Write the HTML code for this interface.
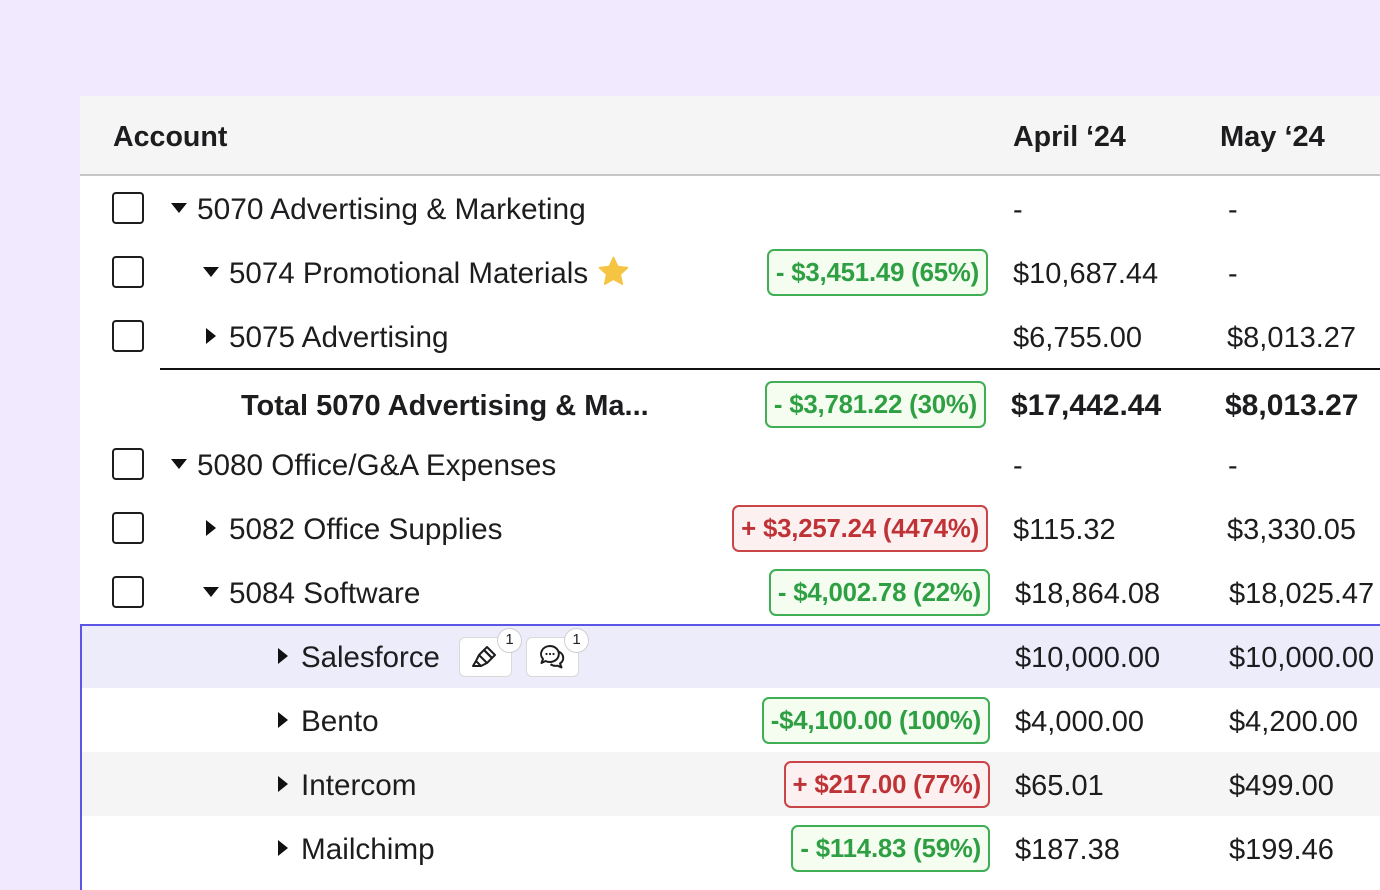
<!DOCTYPE html>
<html><head><meta charset="utf-8">
<style>
*{margin:0;padding:0;box-sizing:border-box}
html,body{width:1380px;height:890px;overflow:hidden;background:#f1e9fe}
body{position:relative;font-family:"Liberation Sans",Arial,sans-serif;color:#1d1d1f}
.card{position:absolute;left:80px;top:96px;width:1300px;height:794px;background:#fff}
.hdr{position:absolute;left:80px;top:96px;width:1300px;height:80px;background:#f5f5f5;border-bottom:2px solid #c6c6c6}
.h{position:absolute;top:97px;height:80px;line-height:80px;font-weight:bold;font-size:28.6px;color:#1d1d1f}
.t{position:absolute;font-size:29.7px;white-space:nowrap;height:64px;line-height:64px;margin-top:1.5px}
.b{font-weight:bold;font-size:29px}
.v{position:absolute;font-size:29px;white-space:nowrap;height:64px;line-height:64px;margin-top:1.5px}
.cb{position:absolute;left:112px;width:32px;height:32px;border:2px solid #1d1d1f;border-radius:4px;background:#fff}
.td{position:absolute;width:0;height:0;border-left:8px solid transparent;border-right:8px solid transparent;border-top:10px solid #111}
.tr{position:absolute;width:0;height:0;border-top:8px solid transparent;border-bottom:8px solid transparent;border-left:10px solid #111}
.bd{position:absolute;height:47px;line-height:44px;border:2px solid;border-radius:7px;font-weight:bold;font-size:25.8px;padding:0 7px;white-space:nowrap;letter-spacing:-0.2px}
.g{border-color:#3fae55;background:#f4fdef;color:#2e9f43}
.r{border-color:#c94548;background:#fdf0f0;color:#bf3337}
.btn{position:absolute;top:637px;width:53px;height:40px;border:1.5px solid #d9d9d9;border-radius:6px;background:#fff}
.cnt{position:absolute;top:628px;width:25px;height:25px;border-radius:50%;border:1.5px solid #cfcfcf;background:#fff;font-size:15px;line-height:22px;text-align:center;color:#222}
</style></head><body>
<div class="card"></div>
<div class="hdr"></div>
<div class="h" style="left:113px">Account</div>
<div class="h" style="left:1013px">April ‘24</div>
<div class="h" style="left:1220px;font-size:29px">May ‘24</div>

<!-- highlighted rows backgrounds -->
<div style="position:absolute;left:80px;top:625px;width:1300px;height:63px;background:#ececfb"></div>
<div style="position:absolute;left:80px;top:752px;width:1300px;height:64px;background:#f5f5f5"></div>
<div style="position:absolute;left:80px;top:624px;width:1300px;height:2px;background:#5b56e6"></div>
<div style="position:absolute;left:80px;top:624px;width:2px;height:266px;background:#5b56e6"></div>
<div style="position:absolute;left:160px;top:368px;width:1220px;height:2px;background:#111"></div>

<!-- row 1: 5070 center 208 -->
<div class="cb" style="top:192px"></div>
<div class="td" style="left:171px;top:203px"></div>
<div class="t" style="left:197px;top:176px;font-size:29.9px">5070 Advertising &amp; Marketing</div>
<div class="v" style="left:1013px;top:176px">-</div>
<div class="v" style="left:1228px;top:176px">-</div>

<!-- row 2: 5074 center 272 -->
<div class="cb" style="top:256px"></div>
<div class="td" style="left:203px;top:267px"></div>
<div class="t" style="left:229px;top:240px;font-size:29.5px">5074 Promotional Materials</div>
<svg style="position:absolute;left:597px;top:255px" width="33" height="33" viewBox="0 0 24 24"><path d="M12 1.8l3.1 6.6 7.1.8-5.3 4.9 1.5 7.1L12 17.6l-6.4 3.6 1.5-7.1L1.8 9.2l7.1-.8z" fill="#f5c443" stroke="#f5c443" stroke-width="1.2" stroke-linejoin="round"/></svg>
<div class="bd g" style="right:392px;top:249px">- $3,451.49 (65%)</div>
<div class="v" style="left:1013px;top:240px">$10,687.44</div>
<div class="v" style="left:1228px;top:240px">-</div>

<!-- row 3: 5075 center 336 -->
<div class="cb" style="top:320px"></div>
<div class="tr" style="left:206px;top:328px"></div>
<div class="t" style="left:229px;top:304px">5075 Advertising</div>
<div class="v" style="left:1013px;top:304px">$6,755.00</div>
<div class="v" style="left:1227px;top:304px">$8,013.27</div>

<!-- total row center 404 -->
<div class="t b" style="left:241px;top:372px">Total 5070 Advertising &amp; Ma...</div>
<div class="bd g" style="right:394px;top:381px">- $3,781.22 (30%)</div>
<div class="v b" style="left:1011px;top:372px;font-size:30px">$17,442.44</div>
<div class="v b" style="left:1225px;top:372px;font-size:30px">$8,013.27</div>

<!-- row 5080 center 464 -->
<div class="cb" style="top:448px"></div>
<div class="td" style="left:171px;top:459px"></div>
<div class="t" style="left:197px;top:432px">5080 Office/G&amp;A Expenses</div>
<div class="v" style="left:1013px;top:432px">-</div>
<div class="v" style="left:1228px;top:432px">-</div>

<!-- row 5082 center 528 -->
<div class="cb" style="top:512px"></div>
<div class="tr" style="left:206px;top:520px"></div>
<div class="t" style="left:229px;top:496px">5082 Office Supplies</div>
<div class="bd r" style="right:392px;top:505px">+ $3,257.24 (4474%)</div>
<div class="v" style="left:1013px;top:496px">$115.32</div>
<div class="v" style="left:1227px;top:496px">$3,330.05</div>

<!-- row 5084 center 592 -->
<div class="cb" style="top:576px"></div>
<div class="td" style="left:203px;top:587px"></div>
<div class="t" style="left:229px;top:560px">5084 Software</div>
<div class="bd g" style="right:390px;top:569px">- $4,002.78 (22%)</div>
<div class="v" style="left:1015px;top:560px">$18,864.08</div>
<div class="v" style="left:1229px;top:560px">$18,025.47</div>

<!-- Salesforce center 656 -->
<div class="tr" style="left:278px;top:648px"></div>
<div class="t" style="left:301px;top:624px;font-size:29.4px">Salesforce</div>
<div class="btn" style="left:459px"></div>
<svg style="position:absolute;left:470px;top:642px" width="30" height="30" viewBox="0 0 30 30"><g fill="none" stroke="#1d1d1f" stroke-width="2" stroke-linejoin="round"><path d="M14 8l8 8-5 5-8-8z"/><path d="M17 5l8 8-3 3-8-8z"/><path d="M9 13l-3 6 5 5 6-3"/><path d="M6 19l-3 5h6l2-0"/></g></svg>
<div class="cnt" style="left:497px">1</div>
<div class="btn" style="left:526px"></div>
<svg style="position:absolute;left:537px;top:642px" width="30" height="30" viewBox="0 0 30 30"><g fill="none" stroke="#1d1d1f" stroke-width="2" stroke-linejoin="round"><path d="M13 4a9 8 0 1 1-4.5 15l-4 2 1.5-4A9 8 0 0 1 13 4z"/><path d="M21.5 9.5a8 7 0 0 1 1.5 12l1.5 4-4-1.8a8 7 0 0 1-7-1.5"/></g><g fill="#1d1d1f"><circle cx="9.5" cy="12" r="1.1"/><circle cx="13" cy="12" r="1.1"/><circle cx="16.5" cy="12" r="1.1"/></g></svg>
<div class="cnt" style="left:564px">1</div>
<div class="v" style="left:1015px;top:624px">$10,000.00</div>
<div class="v" style="left:1229px;top:624px">$10,000.00</div>

<!-- Bento center 720 -->
<div class="tr" style="left:278px;top:712px"></div>
<div class="t" style="left:301px;top:688px">Bento</div>
<div class="bd g" style="right:390px;top:697px">-$4,100.00 (100%)</div>
<div class="v" style="left:1015px;top:688px">$4,000.00</div>
<div class="v" style="left:1229px;top:688px">$4,200.00</div>

<!-- Intercom center 784 -->
<div class="tr" style="left:278px;top:776px"></div>
<div class="t" style="left:301px;top:752px">Intercom</div>
<div class="bd r" style="right:390px;top:761px">+ $217.00 (77%)</div>
<div class="v" style="left:1015px;top:752px">$65.01</div>
<div class="v" style="left:1229px;top:752px">$499.00</div>

<!-- Mailchimp center 848 -->
<div class="tr" style="left:278px;top:840px"></div>
<div class="t" style="left:301px;top:816px">Mailchimp</div>
<div class="bd g" style="right:390px;top:825px">- $114.83 (59%)</div>
<div class="v" style="left:1015px;top:816px">$187.38</div>
<div class="v" style="left:1229px;top:816px">$199.46</div>
</body></html>
